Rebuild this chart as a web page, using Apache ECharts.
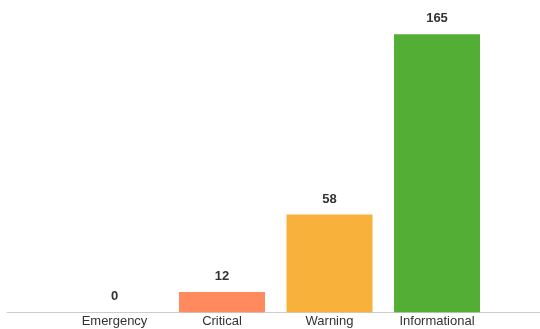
<!DOCTYPE html>
<html>
<head>
<meta charset="utf-8">
<script src="https://cdn.jsdelivr.net/npm/echarts@6/dist/echarts.min.js"></script>
<style>
html,body{margin:0;padding:0;background:#fff;}
#c{width:540px;height:329px;}
</style>
</head>
<body>
<div id="c"></div>
<script>
const categories = ['Emergency', 'Critical', 'Warning', 'Informational'];
const counts = [0, 12, 58, 165];
const barColors = ['#E0483A', '#FF8A5E', '#F8B13A', '#52AE34'];

const chart = echarts.init(document.getElementById('c'), null, {renderer: 'canvas'});
chart.setOption({
  animation: false,
  backgroundColor: '#ffffff',
  grid: [
    {left: 60.75, right: 49.25, top: 34.3, bottom: 16.7, containLabel: false},
    {left: 7, right: 0, top: 34.3, bottom: 16.7, containLabel: false}
  ],
  xAxis: [
    {
      type: 'category', gridIndex: 0, data: categories,
      axisLine: {show: false}, axisTick: {show: false},
      axisLabel: {color: '#333', fontFamily: 'Liberation Sans, Arial, sans-serif', fontSize: 13, margin: 3}
    },
    {
      type: 'category', gridIndex: 1, data: [''],
      axisLine: {show: true, lineStyle: {color: '#cccccc', width: 1}},
      axisTick: {show: false}, axisLabel: {show: false}
    }
  ],
  yAxis: [
    {type: 'value', gridIndex: 0, min: 0, max: 165, show: false, splitLine: {show: false}},
    {type: 'value', gridIndex: 1, min: 0, max: 1, show: false, splitLine: {show: false}}
  ],
  series: [{
    type: 'bar',
    xAxisIndex: 0, yAxisIndex: 0,
    barWidth: 86,
    data: counts.map((v, i) => ({value: v, itemStyle: {color: barColors[i]}})),
    label: {
      show: true, position: 'top', distance: 9,
      color: '#333', fontWeight: 'bold', fontSize: 13,
      fontFamily: 'Liberation Sans, Arial, sans-serif'
    }
  }]
});
</script>
</body>
</html>
